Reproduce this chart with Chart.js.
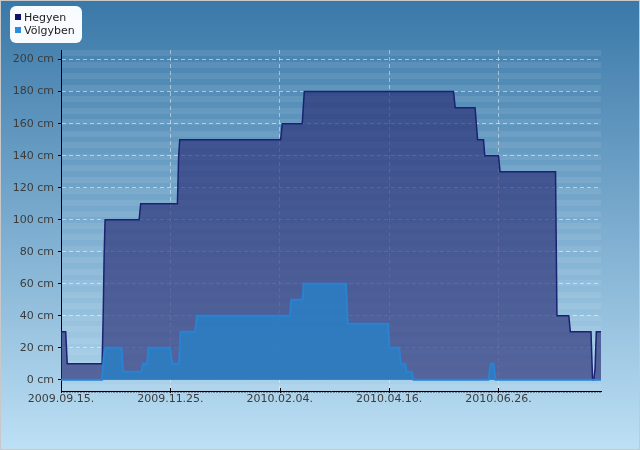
<!DOCTYPE html>
<html>
<head>
<meta charset="utf-8">
<script src="https://cdn.jsdelivr.net/npm/chart.js@4/dist/chart.umd.min.js"></script>
<style>
html,body{margin:0;padding:0;background:#fff;}
canvas{display:block;}
</style>
</head>
<body>
<canvas id="c" width="640" height="450"></canvas>
<script>
// ---- data (x = days since 2009.09.15.) ----
const seriesNames = ["Hegyen", "Völgyben"];
const hegyenDays = [0, 3, 4, 26.3, 27, 27.6, 28.2, 50, 51, 74.5, 75.3, 76, 140.6, 141.6, 154.4, 155.7, 251.2, 252.3, 265, 266.6, 270.4, 271.2, 280, 281, 316.5, 317.4, 325, 326, 339.2, 340.2, 341, 341.8, 342.6, 345.6];
const hegyenCm   = [30, 30, 10, 10, 40, 77, 100, 100, 110, 110, 140, 150, 150, 160, 160, 180, 180, 170, 170, 150, 150, 140, 140, 130, 130, 40, 40, 30, 30, 0, 0, 7, 30, 30];
const volgyDays  = [0, 26.3, 27.4, 28.5, 38.7, 39.7, 51.5, 52.5, 55.1, 56, 69.8, 71.2, 75.5, 76.5, 85.8, 87.1, 146.5, 147.4, 154.7, 155.3, 182.4, 183.5, 209.1, 210.2, 216.4, 217.5, 220.2, 221.3, 224.5, 225.6, 273.5, 275.1, 276.8, 278.1, 345.6];
const volgyCm    = [0, 0, 15, 20, 20, 5, 5, 10, 10, 20, 20, 10, 10, 30, 30, 40, 40, 50, 50, 60, 60, 35, 35, 20, 20, 10, 10, 5, 5, 0, 0, 10, 10, 0, 0];
const xTickDays   = [0, 70, 140, 210, 280];
const xTickLabels = ["2009.09.15.", "2009.11.25.", "2010.02.04.", "2010.04.16.", "2010.06.26."];
const yTickValues = [0, 20, 40, 60, 80, 100, 120, 140, 160, 180, 200];
const yUnit = " cm";

const FONT = "'DejaVu Sans', Verdana, sans-serif";

const bgPlugin = {
  id: 'bg',
  beforeDraw(chart) {
    const ctx = chart.ctx, W = chart.width, H = chart.height;
    ctx.save();
    const g = ctx.createLinearGradient(0, 0, 0, H);
    g.addColorStop(0, '#3a78a8');
    g.addColorStop(1, '#bde0f5');
    ctx.fillStyle = g;
    ctx.fillRect(0, 0, W, H);
    const a = chart.chartArea;
    ctx.fillStyle = 'rgba(255,255,255,0.08)';
    for (let y = a.top; y < a.bottom - 2; y += 11.5) {
      ctx.fillRect(a.left, Math.round(y), a.right - a.left, 6);
    }
    ctx.strokeStyle = '#c8c8c8';
    ctx.lineWidth = 1;
    ctx.strokeRect(0.5, 0.5, W - 1, H - 1);
    ctx.restore();
  },
  afterDraw(chart) {
    const ctx = chart.ctx;
    const xs = chart.scales.x;
    const a = chart.chartArea;
    ctx.save();
    // minor day ticks
    ctx.fillStyle = 'rgba(50,50,50,0.45)';
    for (let d = 0; d <= xs.max; d += 1) {
      const px = Math.round(xs.getPixelForValue(d));
      ctx.fillRect(px, a.bottom + 1, 1, 1);
    }
    // major ticks crossing axis
    ctx.strokeStyle = '#000';
    ctx.lineWidth = 1;
    xTickDays.forEach(d => {
      const px = Math.round(xs.getPixelForValue(d)) + 0.5;
      ctx.beginPath(); ctx.moveTo(px, a.bottom - 3); ctx.lineTo(px, a.bottom + 2); ctx.stroke();
    });
    // legend
    const lx = 10, ly = 6, lw = 72, lh = 37, r = 6;
    ctx.fillStyle = '#f8fbff';
    ctx.beginPath();
    ctx.moveTo(lx + r, ly);
    ctx.arcTo(lx + lw, ly, lx + lw, ly + lh, r);
    ctx.arcTo(lx + lw, ly + lh, lx, ly + lh, r);
    ctx.arcTo(lx, ly + lh, lx, ly, r);
    ctx.arcTo(lx, ly, lx + lw, ly, r);
    ctx.closePath();
    ctx.fill();
    const sq = ['#10126a', '#2a8ede'];
    const base = [20.5, 33.5];
    ctx.font = '11px ' + FONT;
    ctx.textBaseline = 'alphabetic';
    ctx.textAlign = 'left';
    seriesNames.forEach((n, i) => {
      ctx.fillStyle = sq[i];
      ctx.fillRect(15, base[i] - 6.5, 6, 6);
      ctx.fillStyle = '#1c1c1c';
      ctx.fillText(n, 24, base[i]);
    });
    ctx.restore();
  }
};

new Chart(document.getElementById('c'), {
  type: 'line',
  data: {
    datasets: [
      {
        label: seriesNames[0],
        data: hegyenDays.map((d, i) => ({x: d, y: hegyenCm[i]})),
        borderColor: '#1b2272',
        borderWidth: 1.5,
        backgroundColor: 'rgba(40,44,115,0.66)',
        fill: 'origin',
        pointRadius: 0,
        tension: 0,
        order: 1
      },
      {
        label: seriesNames[1],
        data: volgyDays.map((d, i) => ({x: d, y: volgyCm[i]})),
        borderColor: '#2a82d2',
        borderWidth: 2,
        backgroundColor: 'rgba(44,125,194,0.9)',
        fill: 'origin',
        pointRadius: 0,
        tension: 0,
        order: 0
      }
    ]
  },
  options: {
    responsive: false,
    animation: false,
    events: [],
    layout: { padding: { left: 0, right: 39, top: 50, bottom: 0 } },
    plugins: { legend: { display: false }, tooltip: { enabled: false } },
    scales: {
      x: {
        type: 'linear',
        min: 0,
        max: 345.6,
        afterFit(s) { s.height = 59; },
        afterBuildTicks(s) { s.ticks = xTickDays.map(v => ({value: v})); },
        ticks: {
          autoSkip: false,
          maxRotation: 0,
          padding: 2,
          color: '#3c3c3c',
          font: { family: FONT, size: 11 },
          callback: (v) => { const i = xTickDays.indexOf(v); return i >= 0 ? xTickLabels[i] : ''; }
        },
        grid: {
          color: 'rgba(255,255,255,0.45)',
          lineWidth: 1,
          drawTicks: false,
          tickLength: 4
        },
        border: { display: true, color: '#000', width: 1, dash: [4, 3] }
      },
      y: {
        type: 'linear',
        min: -7,
        max: 206,
        afterFit(s) { s.width = 61; },
        afterBuildTicks(s) { s.ticks = yTickValues.map(v => ({value: v})); },
        ticks: {
          padding: 4,
          color: '#3c3c3c',
          font: { family: FONT, size: 11 },
          callback: (v) => v + yUnit
        },
        grid: {
          color: 'rgba(255,255,255,0.5)',
          lineWidth: 1,
          drawTicks: true,
          tickLength: 3,
          tickColor: '#000',
          tickWidth: 1
        },
        border: { display: true, color: '#000', width: 1, dash: [4, 3] }
      }
    }
  },
  plugins: [bgPlugin]
});
</script>
</body>
</html>
